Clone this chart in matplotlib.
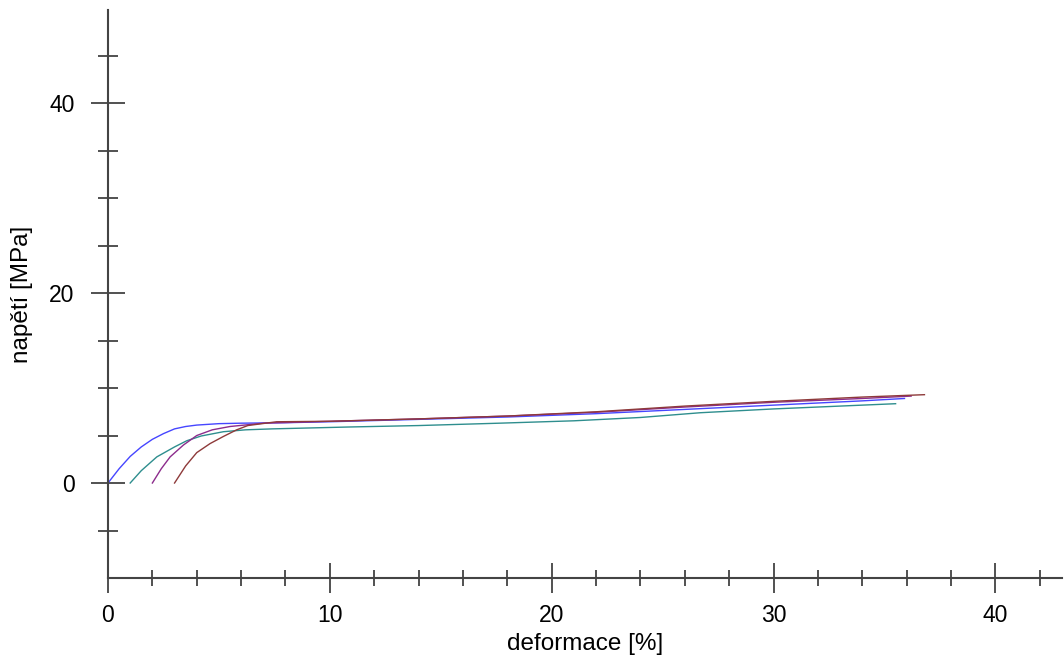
import matplotlib
matplotlib.use('Agg')
import matplotlib.pyplot as plt
from matplotlib.ticker import MultipleLocator

plt.rcParams['font.family'] = ['Liberation Sans', 'DejaVu Sans']

# stress-strain curves
blue_x = [0, 0.5, 1.0, 1.5, 2.0, 2.5, 3.0, 3.5, 4.0, 5.0, 6.0, 8, 10, 14, 18, 22, 26, 30, 34, 35.9]
blue_y = [0, 1.5, 2.8, 3.8, 4.6, 5.2, 5.7, 5.95, 6.1, 6.25, 6.3, 6.35, 6.45, 6.7, 6.95, 7.3, 7.75, 8.2, 8.65, 8.9]

teal_x = [1.0, 1.5, 2.2, 3.0, 3.55, 4.2, 5.2, 6.2, 7.4, 10.9, 14, 17.65, 21, 24, 26.7, 30, 33, 35.5]
teal_y = [0, 1.3, 2.75, 3.8, 4.45, 4.95, 5.4, 5.6, 5.7, 5.9, 6.05, 6.3, 6.55, 6.9, 7.4, 7.8, 8.1, 8.35]

purple_x = [2.0, 2.4, 2.8, 3.4, 4.0, 4.7, 5.5, 7.0, 10, 14, 18, 22, 26, 30, 34, 36.2]
purple_y = [0, 1.5, 2.75, 4.0, 5.0, 5.6, 5.95, 6.3, 6.5, 6.75, 7.05, 7.45, 8.0, 8.5, 8.9, 9.15]

brown_x = [3.0, 3.5, 4.0, 4.6, 5.2, 5.8, 6.3, 7.6, 10, 14, 18, 22, 26, 30, 34, 36.8]
brown_y = [0, 1.8, 3.2, 4.15, 4.9, 5.6, 6.05, 6.45, 6.5, 6.75, 7.05, 7.5, 8.1, 8.6, 9.05, 9.3]

fig = plt.figure(figsize=(10.64, 6.63), dpi=100)
ax = fig.add_axes([108 / 1064, 85 / 663, (1062 - 108) / 1064, (663 - 85 - 10) / 663])

ax.plot(blue_x, blue_y, color='#4646ff', lw=1)
ax.plot(teal_x, teal_y, color='#2e8e8e', lw=1)
ax.plot(purple_x, purple_y, color='#8c2c8c', lw=1)
ax.plot(brown_x, brown_y, color='#8e3a3a', lw=1)

ax.set_xlim(0, 43)
ax.set_ylim(-10, 49.8)

for s in ['top', 'right']:
    ax.spines[s].set_visible(False)
for s in ['left', 'bottom']:
    ax.spines[s].set_color('#444444')
    ax.spines[s].set_linewidth(1.5)

ax.xaxis.set_major_locator(MultipleLocator(10))
ax.xaxis.set_minor_locator(MultipleLocator(2))
ax.set_yticks([0, 20, 40])
ax.set_yticks([-5, 5, 10, 15, 25, 30, 35, 45], minor=True)

ax.tick_params(axis='x', which='major', direction='inout', length=22, width=1.2, color='#333333', pad=8, labelsize=16.5)
ax.tick_params(axis='x', which='minor', direction='inout', length=12, width=1.2, color='#333333')
ax.tick_params(axis='y', which='major', direction='inout', length=24, width=1.2, color='#333333', pad=12, labelsize=16.5)
ax.tick_params(axis='y', which='minor', direction='inout', length=14, width=1.2, color='#333333')

ax.set_xlabel('deformace [%]', fontsize=17.5, labelpad=4)
ax.set_ylabel('napětí [MPa]', fontsize=17.5, labelpad=12)

fig.savefig('out.png', dpi=100)
